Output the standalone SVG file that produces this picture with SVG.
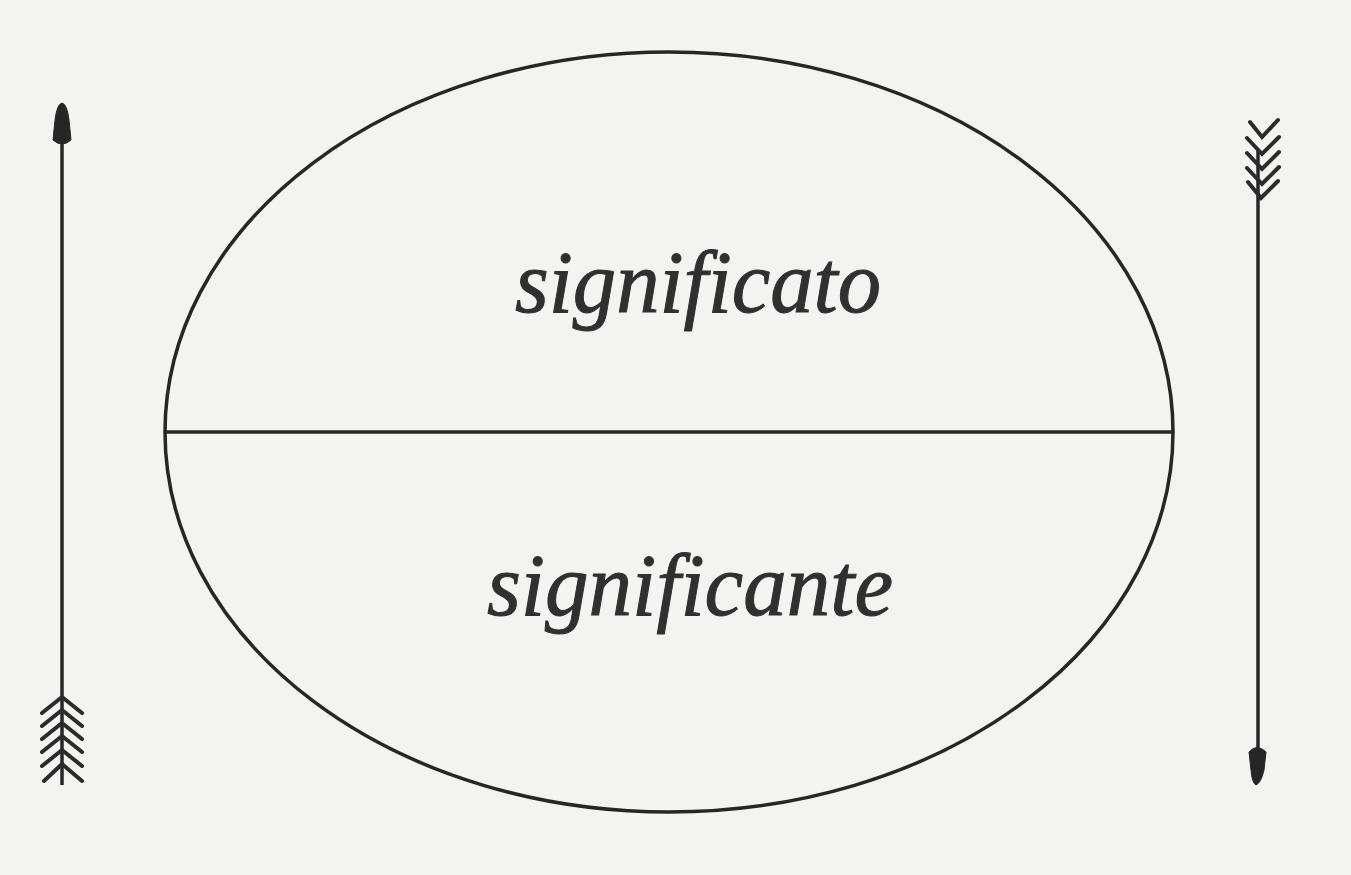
<svg xmlns="http://www.w3.org/2000/svg" width="1351" height="875" viewBox="0 0 1351 875">
<style>
.ln{fill:none;stroke:#262626;stroke-width:3.5}
.fl{fill:none;stroke:#2b2b2b;stroke-width:4;stroke-linecap:round}
.hd{fill:#262626;stroke:#262626;stroke-width:1}
.lb{font-family:"Liberation Serif","DejaVu Serif",serif;font-style:italic;font-size:88px;fill:#303030;stroke:#303030;stroke-width:1}
</style>
<rect width="1351" height="875" fill="#f3f3f1"/>
<g id="sign">
<ellipse class="ln" cx="669" cy="432" rx="504" ry="380"/>
<line class="ln" x1="166" y1="432" x2="1172" y2="432"/>
</g>
<g id="significato">
<text class="lb" x="515" y="312" textLength="366" lengthAdjust="spacingAndGlyphs">significato</text>
</g>
<g id="significante">
<text class="lb" x="487" y="615" textLength="406" lengthAdjust="spacingAndGlyphs">significante</text>
</g>
<g id="connectors">
<g id="arrow-up">
<line class="ln" x1="62" y1="140" x2="62" y2="785"/>
<path class="hd" d="M62,103 Q57,104 55,120 L53,140 Q62,148 71,140 L69,120 Q67,104 62,103 Z"/>
<path class="fl" d="M42,713 L62,697 L82,713 M42,726 L62,710 L82,726 M42,739 L62,723 L82,739 M42,752 L62,736 L82,752 M42,766 L62,750 L82,766 M44,781 L62,764 L82,781"/>
</g>
<g id="arrow-down">
<line class="ln" x1="1258" y1="150" x2="1258" y2="750"/>
<path class="hd" d="M1256,785 Q1252,783 1251,770 L1249,752 Q1257,743 1266,752 L1264,770 Q1261,783 1256,785 Z"/>
<path class="fl" d="M1250,122 L1262,137 L1278,120 M1247,138 L1262,154 L1279,137 M1247,153 L1262,169 L1279,152 M1247,168 L1262,184 L1279,167 M1248,182 L1261,198 L1278,181"/>
</g>
</g>
</svg>
